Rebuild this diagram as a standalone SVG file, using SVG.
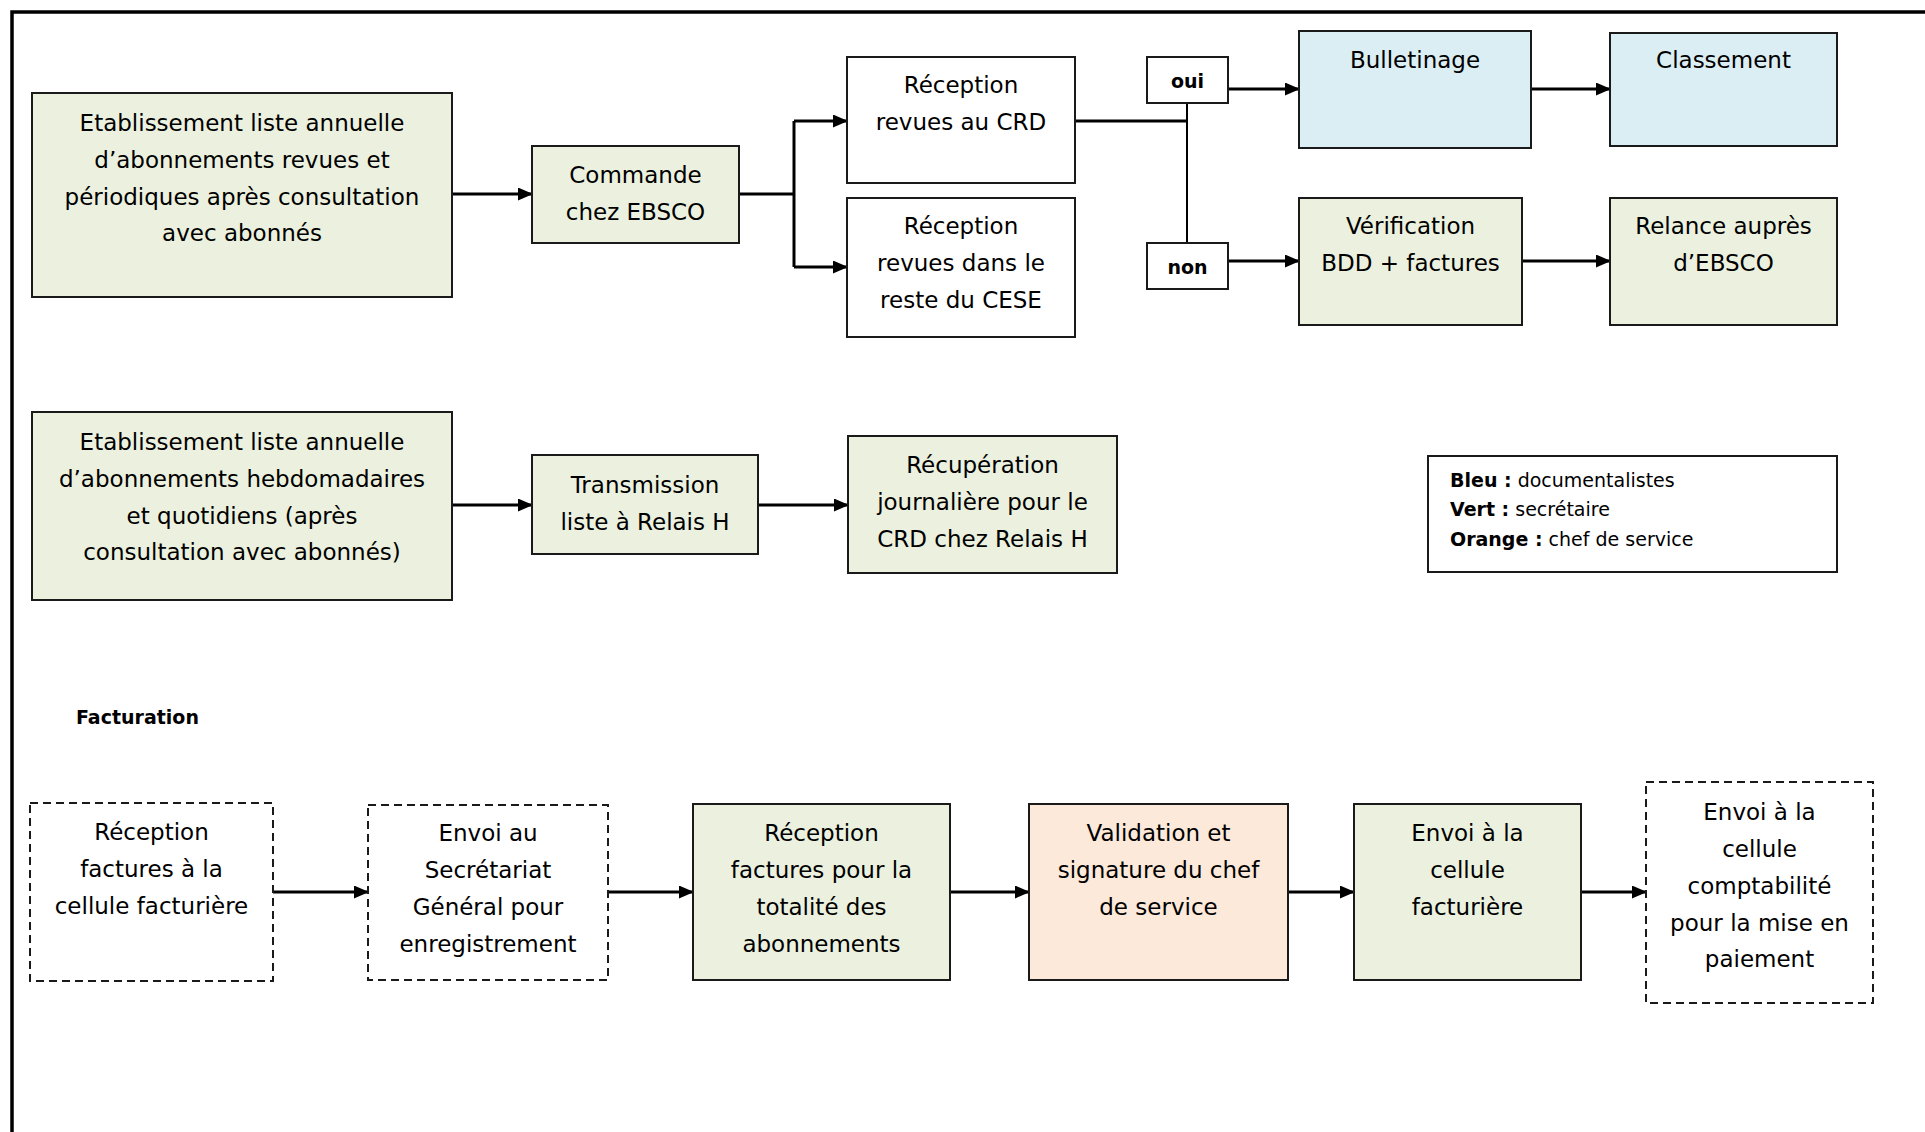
<svg xmlns="http://www.w3.org/2000/svg" width="1925" height="1132" viewBox="0 0 1925 1132">
  <style>
    text { font-family: "DejaVu Sans", "Liberation Sans", sans-serif; fill: #000; }
    .t { font-size: 23px; text-anchor: middle; }
    .lg { font-size: 19px; }
    .b { font-weight: bold; }
    .box { stroke: #1a1a1a; stroke-width: 2; }
    .plain { fill: #fff; }
    .green { fill: #EBF1DE; }
    .blue { fill: #DBEEF3; }
    .orange { fill: #FDE9D9; }
    .dash { fill: #fff; stroke: #1a1a1a; stroke-width: 2; stroke-dasharray: 8 5; }
    .conn { fill: none; stroke: #000; stroke-width: 3; }
    .thin { fill: none; stroke: #000; stroke-width: 2; }
  </style>
  <defs>
    <marker id="arrow" markerUnits="userSpaceOnUse" markerWidth="15" markerHeight="13" refX="14" refY="6.5" orient="auto">
      <path d="M0,0 L15,6.5 L0,13 Z" fill="#000"/>
    </marker>
  </defs>

  <!-- page frame: left and top rules -->
  <path d="M12,1132 V12 H1925" fill="none" stroke="#000" stroke-width="3.5"/>

  <!-- connectors -->
  <g id="connectors">
    <path class="conn" d="M452,194 H532" marker-end="url(#arrow)"/>
    <path class="conn" d="M739,194 H794"/>
    <path class="conn" d="M794,121 V267"/>
    <path class="conn" d="M794,121 H847" marker-end="url(#arrow)"/>
    <path class="conn" d="M794,267 H847" marker-end="url(#arrow)"/>
    <path class="conn" d="M1075,121 H1187"/>
    <path class="thin" d="M1187,103 V243"/>
    <path class="conn" d="M1228,89 H1299" marker-end="url(#arrow)"/>
    <path class="conn" d="M1531,89 H1610" marker-end="url(#arrow)"/>
    <path class="conn" d="M1228,261 H1299" marker-end="url(#arrow)"/>
    <path class="conn" d="M1522,261 H1610" marker-end="url(#arrow)"/>
    <path class="conn" d="M452,505 H532" marker-end="url(#arrow)"/>
    <path class="conn" d="M758,505 H848" marker-end="url(#arrow)"/>
    <path class="conn" d="M273,892 H368" marker-end="url(#arrow)"/>
    <path class="conn" d="M608,892 H693" marker-end="url(#arrow)"/>
    <path class="conn" d="M950,892 H1029" marker-end="url(#arrow)"/>
    <path class="conn" d="M1288,892 H1354" marker-end="url(#arrow)"/>
    <path class="conn" d="M1581,892 H1646" marker-end="url(#arrow)"/>
  </g>

  <!-- revues et périodiques -->
  <g id="etab-revues">
    <rect class="box green" x="32" y="93" width="420" height="204"/>
    <text class="t" x="242" y="131">Etablissement liste annuelle</text>
    <text class="t" x="242" y="168">d’abonnements revues et</text>
    <text class="t" x="242" y="205">périodiques après consultation</text>
    <text class="t" x="242" y="241">avec abonnés</text>
  </g>
  <g id="commande">
    <rect class="box green" x="532" y="146" width="207" height="97"/>
    <text class="t" x="635.5" y="183">Commande</text>
    <text class="t" x="635.5" y="220">chez EBSCO</text>
  </g>
  <g id="reception-crd">
    <rect class="box plain" x="847" y="57" width="228" height="126"/>
    <text class="t" x="961" y="93">Réception</text>
    <text class="t" x="961" y="130">revues au CRD</text>
  </g>
  <g id="reception-cese">
    <rect class="box plain" x="847" y="198" width="228" height="139"/>
    <text class="t" x="961" y="234">Réception</text>
    <text class="t" x="961" y="271">revues dans le</text>
    <text class="t" x="961" y="308">reste du CESE</text>
  </g>
  <g id="oui">
    <rect class="box plain" x="1147" y="57" width="81" height="46"/>
    <text class="b" x="1187.5" y="88" font-size="19" text-anchor="middle">oui</text>
  </g>
  <g id="non">
    <rect class="box plain" x="1147" y="243" width="81" height="46"/>
    <text class="b" x="1187.5" y="274" font-size="19" text-anchor="middle">non</text>
  </g>
  <g id="bulletinage">
    <rect class="box blue" x="1299" y="31" width="232" height="117"/>
    <text class="t" x="1415" y="68">Bulletinage</text>
  </g>
  <g id="classement">
    <rect class="box blue" x="1610" y="33" width="227" height="113"/>
    <text class="t" x="1723.5" y="68">Classement</text>
  </g>
  <g id="verification">
    <rect class="box green" x="1299" y="198" width="223" height="127"/>
    <text class="t" x="1410.5" y="234">Vérification</text>
    <text class="t" x="1410.5" y="271">BDD + factures</text>
  </g>
  <g id="relance">
    <rect class="box green" x="1610" y="198" width="227" height="127"/>
    <text class="t" x="1723.5" y="234">Relance auprès</text>
    <text class="t" x="1723.5" y="271">d’EBSCO</text>
  </g>

  <!-- hebdomadaires et quotidiens -->
  <g id="etab-quotidiens">
    <rect class="box green" x="32" y="412" width="420" height="188"/>
    <text class="t" x="242" y="450">Etablissement liste annuelle</text>
    <text class="t" x="242" y="487">d’abonnements hebdomadaires</text>
    <text class="t" x="242" y="524">et quotidiens (après</text>
    <text class="t" x="242" y="560">consultation avec abonnés)</text>
  </g>
  <g id="transmission">
    <rect class="box green" x="532" y="455" width="226" height="99"/>
    <text class="t" x="645" y="493">Transmission</text>
    <text class="t" x="645" y="530">liste à Relais H</text>
  </g>
  <g id="recuperation">
    <rect class="box green" x="848" y="436" width="269" height="137"/>
    <text class="t" x="982.5" y="473">Récupération</text>
    <text class="t" x="982.5" y="510">journalière pour le</text>
    <text class="t" x="982.5" y="547">CRD chez Relais H</text>
  </g>

  <!-- légende -->
  <g id="legende">
    <rect class="box plain" x="1428" y="456" width="409" height="116"/>
    <text class="lg" x="1450" y="487"><tspan class="b">Bleu :</tspan> documentalistes</text>
    <text class="lg" x="1450" y="516"><tspan class="b">Vert :</tspan> secrétaire</text>
    <text class="lg" x="1450" y="546"><tspan class="b">Orange :</tspan> chef de service</text>
  </g>

  <!-- facturation -->
  <text id="facturation-title" class="b" x="76" y="724" font-size="19">Facturation</text>
  <g id="reception-factures">
    <rect class="dash" x="30" y="803" width="243" height="178"/>
    <text class="t" x="151.5" y="840">Réception</text>
    <text class="t" x="151.5" y="877">factures à la</text>
    <text class="t" x="151.5" y="914">cellule facturière</text>
  </g>
  <g id="envoi-sg">
    <rect class="dash" x="368" y="805" width="240" height="175"/>
    <text class="t" x="488" y="841">Envoi au</text>
    <text class="t" x="488" y="878">Secrétariat</text>
    <text class="t" x="488" y="915">Général pour</text>
    <text class="t" x="488" y="952">enregistrement</text>
  </g>
  <g id="reception-totalite">
    <rect class="box green" x="693" y="804" width="257" height="176"/>
    <text class="t" x="821.5" y="841">Réception</text>
    <text class="t" x="821.5" y="878">factures pour la</text>
    <text class="t" x="821.5" y="915">totalité des</text>
    <text class="t" x="821.5" y="952">abonnements</text>
  </g>
  <g id="validation">
    <rect class="box orange" x="1029" y="804" width="259" height="176"/>
    <text class="t" x="1158.5" y="841">Validation et</text>
    <text class="t" x="1158.5" y="878">signature du chef</text>
    <text class="t" x="1158.5" y="915">de service</text>
  </g>
  <g id="envoi-cellule">
    <rect class="box green" x="1354" y="804" width="227" height="176"/>
    <text class="t" x="1467.5" y="841">Envoi à la</text>
    <text class="t" x="1467.5" y="878">cellule</text>
    <text class="t" x="1467.5" y="915">facturière</text>
  </g>
  <g id="envoi-comptabilite">
    <rect class="dash" x="1646" y="782" width="227" height="221"/>
    <text class="t" x="1759.5" y="820">Envoi à la</text>
    <text class="t" x="1759.5" y="857">cellule</text>
    <text class="t" x="1759.5" y="894">comptabilité</text>
    <text class="t" x="1759.5" y="931">pour la mise en</text>
    <text class="t" x="1759.5" y="967">paiement</text>
  </g>
</svg>
